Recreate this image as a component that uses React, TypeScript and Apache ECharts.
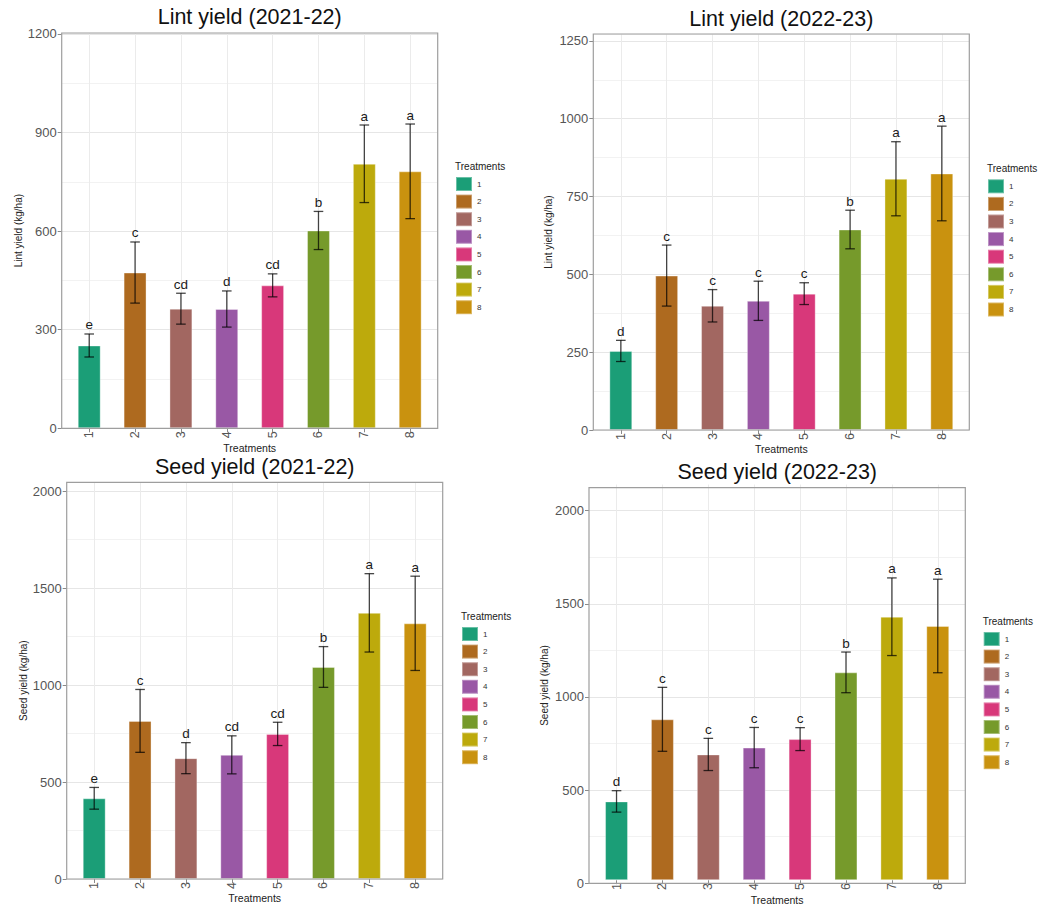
import React, { useEffect, useRef } from 'react';
import * as echarts from 'echarts';

const categories = ['1', '2', '3', '4', '5', '6', '7', '8'];
const colors = ['#1B9E77', '#AE6A1F', '#A26761', '#9958A5', '#D8387A', '#769A2B', '#BDAA0C', '#C9920F'];

const lint2122Mean = [252, 474, 364, 363, 435, 602, 805, 782];
const lint2122Err = [35, 93, 47, 55, 35, 58, 118, 144];
const lint2122Letters = ['e', 'c', 'cd', 'd', 'cd', 'b', 'a', 'a'];

const lint2223Mean = [254, 496, 399, 415, 438, 644, 807, 824];
const lint2223Err = [34, 98, 52, 63, 35, 62, 119, 152];
const lint2223Letters = ['d', 'c', 'c', 'c', 'c', 'b', 'a', 'a'];

const seed2122Mean = [416, 815, 623, 640, 748, 1093, 1372, 1318];
const seed2122Err = [56, 162, 80, 98, 60, 105, 202, 243];
const seed2122Letters = ['e', 'c', 'd', 'cd', 'cd', 'b', 'a', 'a'];

const seed2223Mean = [426, 870, 680, 717, 763, 1124, 1425, 1375];
const seed2223Err = [58, 173, 87, 109, 62, 110, 210, 253];
const seed2223Letters = ['d', 'c', 'c', 'c', 'c', 'b', 'a', 'a'];

const FONT = '"Liberation Sans", Arial, Helvetica, sans-serif';

const panels = [
  {
    title: 'Lint yield (2021-22)', yName: 'Lint yield (kg/ha)',
    mean: lint2122Mean, err: lint2122Err, letters: lint2122Letters,
    yMax: 1203, yTop: 1200, tick: 300,
    L: 61.7, R: 437.7, T: 33, B: 428.3,
    titleX: 249.7, titleY: 17, yNameGap: 38.7, xNameGap: 11.9,
    legX: 455, legY: 176, legTitleY: 166,
  },
  {
    title: 'Lint yield (2022-23)', yName: 'Lint yield (kg/ha)',
    mean: lint2223Mean, err: lint2223Err, letters: lint2223Letters,
    yMax: 1272, yTop: 1250, tick: 250,
    L: 593.3, R: 969.3, T: 34, B: 430,
    titleX: 781.3, titleY: 19.2, yNameGap: 39.5, xNameGap: 11.2,
    legX: 987, legY: 178.3, legTitleY: 168.3,
  },
  {
    title: 'Seed yield (2021-22)', yName: 'Seed yield (kg/ha)',
    mean: seed2122Mean, err: seed2122Err, letters: seed2122Letters,
    yMax: 2045, yTop: 2000, tick: 500,
    L: 66.7, R: 442.7, T: 482.3, B: 879,
    titleX: 254.7, titleY: 466.7, yNameGap: 37.9, xNameGap: 12.2,
    legX: 461, legY: 626, legTitleY: 616,
  },
  {
    title: 'Seed yield (2022-23)', yName: 'Seed yield (kg/ha)',
    mean: seed2223Mean, err: seed2223Err, letters: seed2223Letters,
    yMax: 2123, yTop: 2000, tick: 500,
    L: 589, R: 965.3, T: 487.7, B: 883.3,
    titleX: 777.2, titleY: 471.8, yNameGap: 39.7, xNameGap: 12.9,
    legX: 982.7, legY: 631, legTitleY: 621.7,
  },
];

function buildOption() {
  const grids: any[] = [];
  const xAxes: any[] = [];
  const yAxes: any[] = [];
  const series: any[] = [];
  const legends: any[] = [];
  const graphics: any[] = [];

  panels.forEach((p, i) => {
    const W = p.R - p.L;
    const H = p.B - p.T;
    const band = W / 8.2;
    const inset = 0.1 * band;

    // Grid A: full panel, horizontal grid lines + y name
    const gA = grids.length;
    grids.push({ left: p.L, top: p.T, width: W, height: H, show: false });
    // Grid B: data grid (category bands)
    const gB = grids.length;
    grids.push({ left: p.L + inset, top: p.T, width: W - 2 * inset, height: H, show: false });
    // Grid C: y labels/ticks up to the last labelled tick
    const topPx = p.T + ((p.yMax - p.yTop) / p.yMax) * H;
    const gC = grids.length;
    grids.push({ left: p.L, top: topPx, width: W, height: p.B - topPx, show: false });

    xAxes.push({ type: 'value', gridIndex: gA, min: 0, max: 1, show: false });
    yAxes.push({
      type: 'value', gridIndex: gA, min: 0, max: p.yMax, interval: p.tick / 2, position: 'left',
      axisLine: { show: false }, axisTick: { show: false }, axisLabel: { show: false },
      splitLine: { show: true, lineStyle: { color: ['#e6e6e6', '#f2f2f2'], width: 1 } },
      name: p.yName, nameLocation: 'middle', nameGap: p.yNameGap,
      nameTextStyle: { fontFamily: FONT, fontSize: 10, color: '#222' },
    });

    xAxes.push({ type: 'value', gridIndex: gC, min: 0, max: 1, show: false });
    yAxes.push({
      type: 'value', gridIndex: gC, min: 0, max: p.yTop, interval: p.tick, position: 'left',
      axisLine: { show: false },
      axisTick: { show: true, length: 4, lineStyle: { color: '#8a8a8a', width: 1 } },
      axisLabel: {
        fontFamily: FONT, fontSize: 13, color: '#555', margin: 5,
        formatter: (v: number) => String(v),
      },
      splitLine: { show: false },
    });

    const xB = xAxes.length;
    xAxes.push({
      type: 'category', gridIndex: gB, data: categories, position: 'bottom', boundaryGap: true,
      axisLine: { show: false },
      axisTick: { show: true, alignWithLabel: true, interval: 0, length: 4, lineStyle: { color: '#8a8a8a' } },
      axisLabel: { interval: 0, rotate: 90, margin: 3, fontFamily: FONT, fontSize: 12.5, color: '#555' },
      splitLine: { show: false },
      name: 'Treatments', nameLocation: 'middle', nameGap: p.xNameGap,
      nameTextStyle: { fontFamily: FONT, fontSize: 10.5, color: '#222' },
    });
    xAxes.push({
      type: 'category', gridIndex: gB, data: categories, position: 'bottom', boundaryGap: true,
      axisLine: { show: false }, axisLabel: { show: false }, splitLine: { show: false },
      axisTick: { show: true, inside: true, alignWithLabel: true, interval: 0, length: H, lineStyle: { color: '#ebebeb', width: 1 } },
    });
    const yB = yAxes.length;
    yAxes.push({ type: 'value', gridIndex: gB, min: 0, max: p.yMax, show: false, splitLine: { show: false } });

    categories.forEach((c, j) => {
      series.push({
        type: 'bar', name: c, xAxisIndex: xB, yAxisIndex: yB, stack: 'panel' + i, barWidth: '50%',
        itemStyle: { color: colors[j], borderColor: 'rgba(255,255,255,0.35)', borderWidth: 1 },
        data: p.mean.map((v, k) => (k === j ? v : '-')),
      });
    });

    const letters = p.letters;
    series.push({
      type: 'custom', xAxisIndex: xB, yAxisIndex: yB, z: 5,
      data: p.mean.map((v, k) => [k, v - p.err[k], v + p.err[k]]),
      renderItem: (params: any, api: any) => {
        const x = api.value(0);
        const lo = api.coord([x, api.value(1)]);
        const hi = api.coord([x, api.value(2)]);
        const cap = 4.8;
        const st = { stroke: 'rgba(0,0,0,0.72)', lineWidth: 1.3 };
        return {
          type: 'group',
          children: [
            { type: 'line', shape: { x1: lo[0], y1: lo[1], x2: hi[0], y2: hi[1] }, style: st },
            { type: 'line', shape: { x1: hi[0] - cap, y1: hi[1], x2: hi[0] + cap, y2: hi[1] }, style: st },
            { type: 'line', shape: { x1: lo[0] - cap, y1: lo[1], x2: lo[0] + cap, y2: lo[1] }, style: st },
            {
              type: 'text', x: hi[0], y: hi[1] - 2,
              style: {
                text: letters[params.dataIndex], fill: '#1a1a1a', fontSize: 13.5, fontFamily: FONT,
                align: 'center', verticalAlign: 'bottom',
              },
            },
          ],
        };
      },
    });

    legends.push({
      orient: 'vertical', left: p.legX, top: p.legY, padding: 0,
      itemWidth: 16, itemHeight: 14, itemGap: 1.6, icon: 'rect', selectedMode: false,
      data: categories,
      textStyle: { fontFamily: FONT, fontSize: 8, color: '#333' },
    });

    graphics.push({
      type: 'text', x: p.titleX, y: p.titleY, z: 100, silent: true,
      style: { text: p.title, fontFamily: FONT, fontSize: 21.5, fill: '#111', align: 'center', verticalAlign: 'middle' },
    });
    graphics.push({
      type: 'text', x: p.legX, y: p.legTitleY, z: 100, silent: true,
      style: { text: 'Treatments', fontFamily: FONT, fontSize: 10, fill: '#222', align: 'left', verticalAlign: 'middle' },
    });
    graphics.push({
      type: 'rect', z: 100, silent: true,
      shape: { x: p.L, y: p.T, width: W, height: H },
      style: { fill: 'none', stroke: '#9e9e9e', lineWidth: 1.2 },
    });
  });

  return {
    animation: false,
    backgroundColor: '#ffffff',
    grid: grids,
    xAxis: xAxes,
    yAxis: yAxes,
    series,
    legend: legends,
    graphic: graphics,
  };
}

export default function App() {
  const ref = useRef<HTMLDivElement>(null);
  useEffect(() => {
    if (!ref.current) return;
    const chart = echarts.init(ref.current, undefined, { renderer: 'svg' });
    chart.setOption(buildOption() as any);
    return () => chart.dispose();
  }, []);
  return (
    <div
      ref={ref}
      style={{ position: 'fixed', left: 0, top: 0, width: 1042, height: 906, background: '#fff' }}
    />
  );
}
